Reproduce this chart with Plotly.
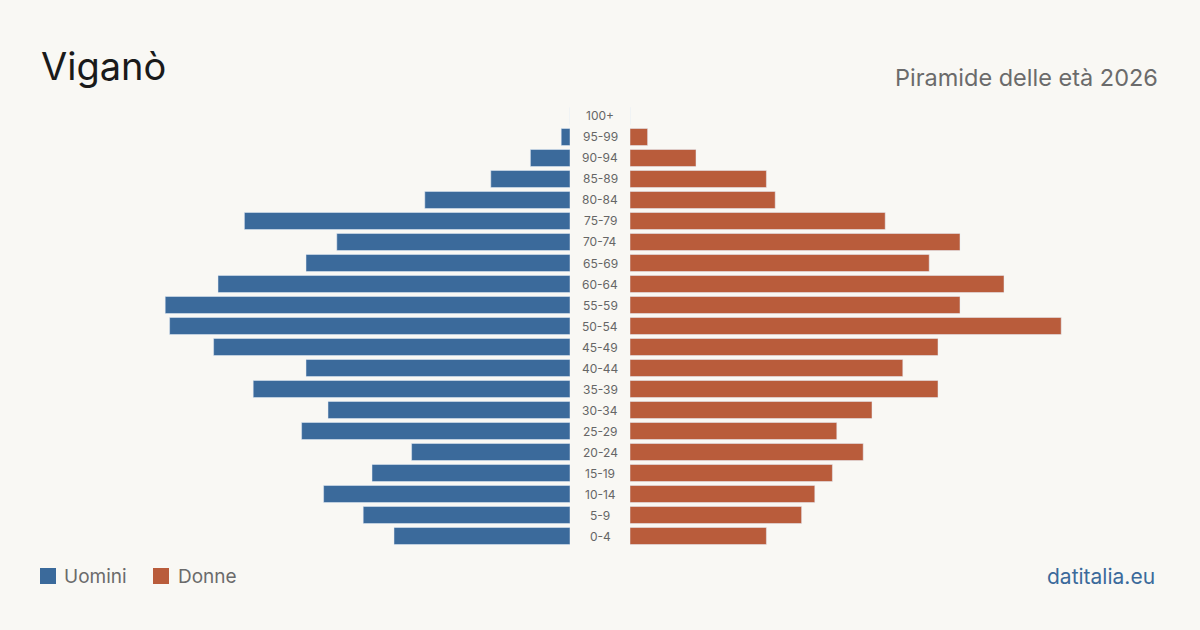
import plotly.graph_objects as go

age_groups = ["0-4", "5-9", "10-14", "15-19", "20-24", "25-29", "30-34", "35-39",
              "40-44", "45-49", "50-54", "55-59", "60-64", "65-69", "70-74", "75-79",
              "80-84", "85-89", "90-94", "95-99", "100+"]
males = [40, 47, 56, 45, 36, 61, 55, 72, 60, 81, 91, 92, 80, 60, 53, 74, 33, 18, 9, 2, 0]
females = [31, 39, 42, 46, 53, 47, 55, 70, 62, 70, 98, 75, 85, 68, 75, 58, 33, 31, 15, 4, 0]

BLUE = "#3b6a9b"
ORANGE = "#b95c3b"
BG = "#f9f8f4"
FONT = "Inter, Roboto, sans-serif"

fig = go.Figure()
fig.add_trace(go.Bar(y=age_groups, x=males, orientation="h", marker_color=BLUE,
                     name="Uomini", xaxis="x", yaxis="y", showlegend=False))
fig.add_trace(go.Bar(y=age_groups, x=females, orientation="h", marker_color=ORANGE,
                     name="Donne", xaxis="x2", yaxis="y", showlegend=False))

for ag in age_groups:
    fig.add_annotation(x=0.5, xref="paper", y=ag, yref="y", text=ag, showarrow=False,
                       font=dict(family=FONT, size=12, color="#666666"),
                       xanchor="center", yanchor="middle")

fig.update_layout(
    width=1200, height=630,
    margin=dict(l=0, r=0, t=0, b=0),
    paper_bgcolor=BG, plot_bgcolor="rgba(0,0,0,0)",
    bargap=0.19,
    xaxis=dict(domain=[0.035, 0.475], range=[120, 0], visible=False, fixedrange=True),
    xaxis2=dict(domain=[0.525, 0.965], range=[0, 120], visible=False, fixedrange=True, anchor="y"),
    yaxis=dict(domain=[83.5 / 630, 524.5 / 630], type="category", categoryorder="array",
               categoryarray=age_groups, range=[-0.5, 20.5], visible=False, fixedrange=True),
    annotations=list(fig.layout.annotations) + [
        dict(x=39 / 1200, y=1 - 66 / 630, xref="paper", yref="paper", text="Viganò",
             showarrow=False, xanchor="left", yanchor="middle",
             font=dict(family=FONT, size=38, color="#1a1a1a")),
        dict(x=1160 / 1200, y=1 - 77 / 630, xref="paper", yref="paper",
             text="Piramide delle età 2026", showarrow=False, xanchor="right", yanchor="middle",
             font=dict(family=FONT, size=23.5, color="#6b6b6b")),
        dict(x=62 / 1200, y=1 - 576 / 630, xref="paper", yref="paper", text="Uomini",
             showarrow=False, xanchor="left", yanchor="middle",
             font=dict(family=FONT, size=19, color="#6b6b6b")),
        dict(x=176 / 1200, y=1 - 576 / 630, xref="paper", yref="paper", text="Donne",
             showarrow=False, xanchor="left", yanchor="middle",
             font=dict(family=FONT, size=19, color="#6b6b6b")),
        dict(x=1157 / 1200, y=1 - 576 / 630, xref="paper", yref="paper", text="datitalia.eu",
             showarrow=False, xanchor="right", yanchor="middle",
             font=dict(family=FONT, size=21, color=BLUE)),
    ],
    shapes=[
        dict(type="rect", xref="paper", yref="paper", x0=40 / 1200, x1=56 / 1200,
             y0=1 - 584 / 630, y1=1 - 568 / 630, fillcolor=BLUE, line_width=0),
        dict(type="rect", xref="paper", yref="paper", x0=153 / 1200, x1=169 / 1200,
             y0=1 - 584 / 630, y1=1 - 568 / 630, fillcolor=ORANGE, line_width=0),
    ],
)

fig.write_html("out.html")
